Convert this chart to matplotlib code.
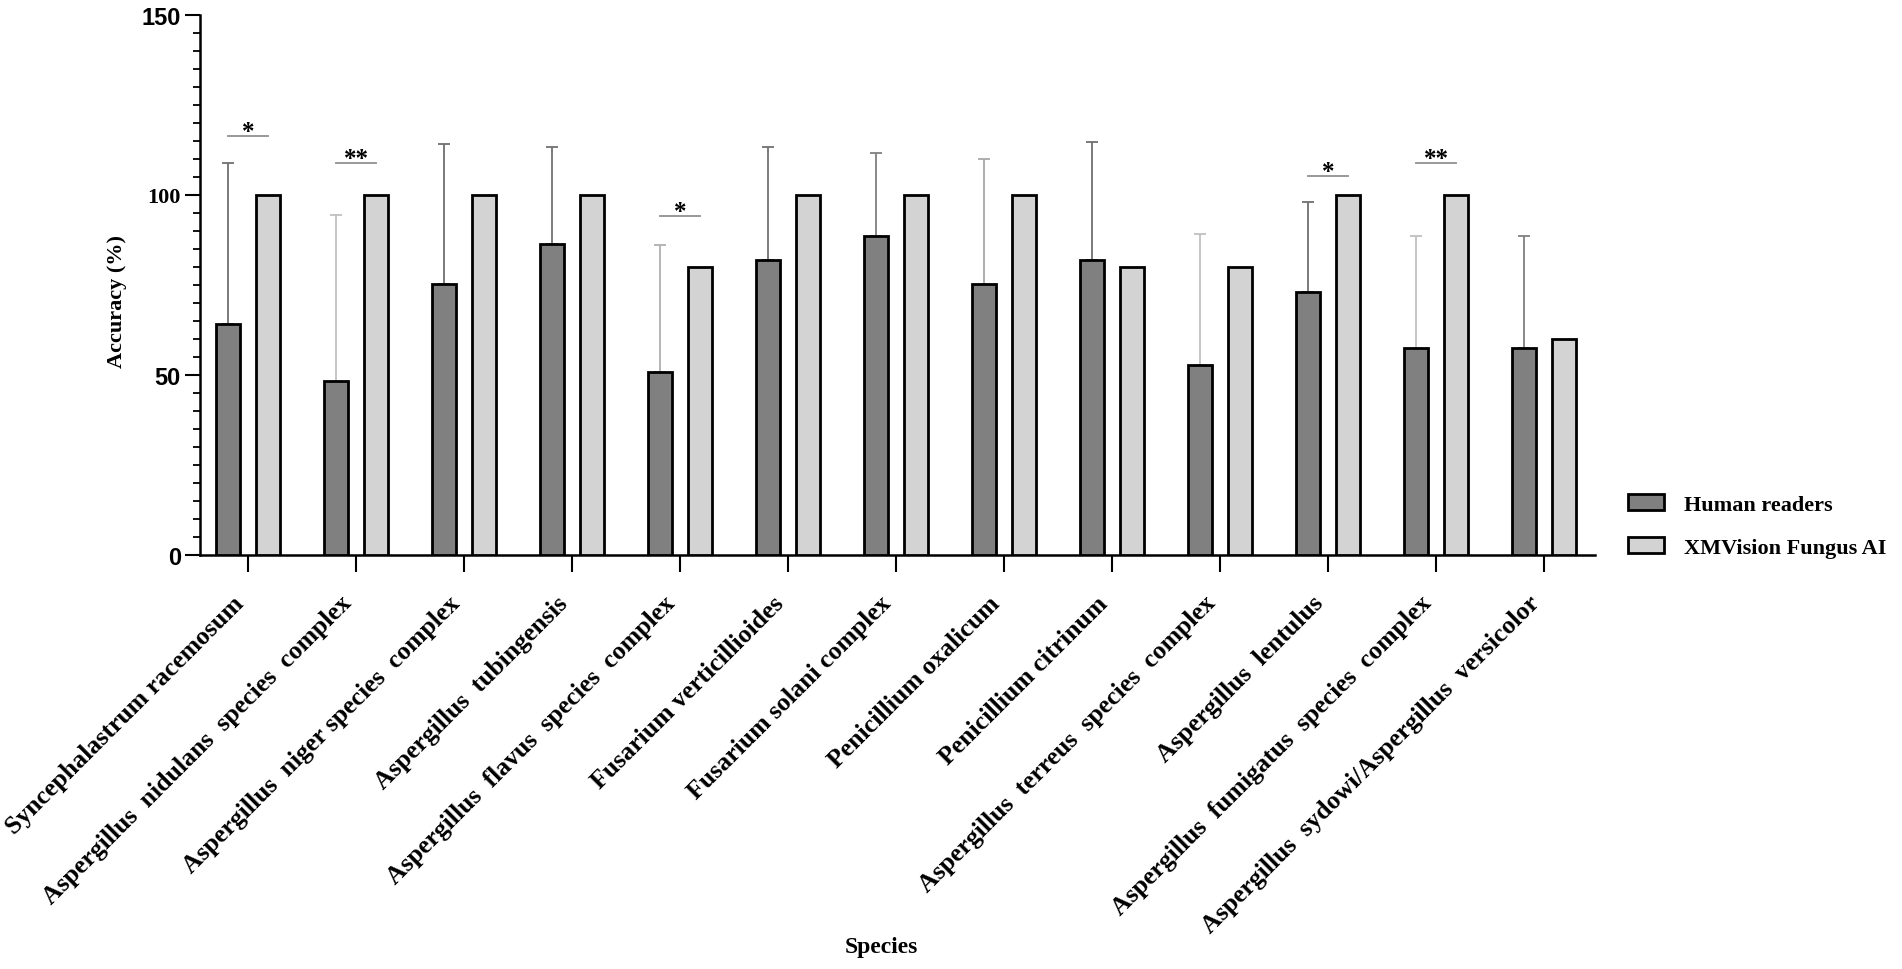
import numpy as np
import matplotlib
matplotlib.use("Agg")
import matplotlib.pyplot as plt
from matplotlib.patches import Patch

# --- data
species = ["Syncephalastrum racemosum",
           "Aspergillus  nidulans  species  complex",
           "Aspergillus  niger species  complex",
           "Aspergillus  tubingensis",
           "Aspergillus  flavus  species  complex",
           "Fusarium verticillioides",
           "Fusarium solani complex",
           "Penicillium oxalicum",
           "Penicillium citrinum",
           "Aspergillus  terreus  species  complex",
           "Aspergillus  lentulus",
           "Aspergillus  fumigatus  species  complex",
           "Aspergillus  sydowi/Aspergillus  versicolor"]
human = [64.3, 48.4, 75.3, 86.5, 50.8, 82.0, 88.7, 75.3, 82.0, 52.9, 73.0, 57.4, 57.4]
human_sd = [44.7, 46.0, 38.8, 26.8, 35.4, 31.2, 22.9, 34.7, 32.6, 36.3, 25.0, 31.2, 31.2]
ai = [100, 100, 100, 100, 80, 100, 100, 100, 80, 80, 100, 100, 60]
# significance marks: category index, label, height of the bracket line
sig_idx = [0, 1, 4, 10, 11]
sig_txt = ["*", "**", "*", "*", "**"]
sig_y = [116.4, 109.0, 94.2, 105.3, 109.0]

serif = "Liberation Serif"
sans = "Liberation Sans"

fig = plt.figure(figsize=(19.02, 9.70), dpi=100)
ax = fig.add_axes([200/1902, 1-556/970, 1395/1902, 540/970])

x = np.arange(len(species))
w = 0.22
off = 0.185

err_col = ["#707070", "#c0c0c0", "#707070", "#707070", "#b0b0b0", "#707070", "#808080",
           "#a8a8a8", "#707070", "#c0c0c0", "#707070", "#c0c0c0", "#808080"]

ax.bar(x - off, human, w, color="#808080", edgecolor="black", linewidth=2.0, zorder=3,
       label="Human readers")
ax.bar(x + off, ai, w, color="#d3d3d3", edgecolor="black", linewidth=2.0, zorder=3,
       label="XMVision Fungus AI")
for i in range(len(species)):
    ax.errorbar(x[i] - off, human[i], yerr=[[0], [human_sd[i]]], fmt="none",
                ecolor=err_col[i], elinewidth=1.3, capsize=4, capthick=1.3, zorder=2)

for i, t, y in zip(sig_idx, sig_txt, sig_y):
    ax.plot([x[i] - off, x[i] + off], [y, y], color="#999999", lw=1.4, zorder=2)
    ax.text(x[i], y - 0.6, t, ha="center", va="baseline", fontsize=18,
            fontfamily=serif, fontweight="bold")

ax.set_xlim(-0.444, 12.47)
ax.set_ylim(0, 150)
ax.spines["top"].set_visible(False)
ax.spines["right"].set_visible(False)
ax.spines["left"].set_linewidth(1.8)
ax.spines["bottom"].set_linewidth(1.8)

ax.set_yticks([0, 50, 100, 150])
ax.set_yticks(np.arange(0, 151, 5), minor=True)
ax.set_yticklabels(["0", "50", "100", "150"], fontsize=17, fontweight="bold", fontfamily=sans)
ax.get_yticklabels()[2].set_fontfamily(serif)
ax.get_yticklabels()[2].set_fontsize(16)
ax.tick_params(axis="y", which="major", length=10.8, width=1.5, pad=3)
ax.tick_params(axis="y", which="minor", length=5, width=1.3)

ax.set_xticks(x)
ax.set_xticklabels(species, rotation=45, ha="right", va="top", fontsize=18.5,
                   fontfamily=serif, fontweight="bold")
ax.tick_params(axis="x", length=12, width=1.5, pad=14)

fig.text(117/1902, 1-302/970, "Accuracy (%)", rotation=90, ha="center", va="center",
         fontsize=16, fontfamily=serif, fontweight="bold")
fig.text(881/1902, 1-948/970, "Species", ha="center", va="center",
         fontsize=17, fontfamily=serif, fontweight="bold")

handles = [Patch(facecolor="#808080", edgecolor="black", linewidth=2.0),
           Patch(facecolor="#d3d3d3", edgecolor="black", linewidth=2.0)]
fig.legend(handles, ["Human readers", "XMVision Fungus AI"], loc="center left",
           bbox_to_anchor=(1628/1902, 1-527/970), frameon=False, borderpad=0,
           borderaxespad=0, handlelength=1.6, handleheight=0.7, handletextpad=0.9,
           labelspacing=1.0, prop={"family": serif, "weight": "bold", "size": 16})

fig.savefig("out.png", dpi=100)
